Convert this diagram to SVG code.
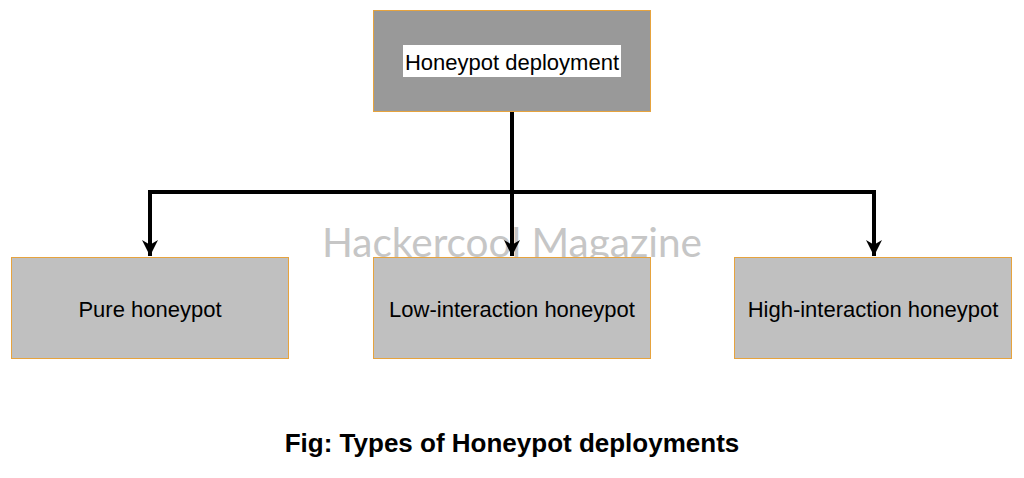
<svg xmlns="http://www.w3.org/2000/svg" width="1024" height="478" viewBox="0 0 1024 478">
<style>
.box{stroke:#e6a33e;stroke-width:1}
.top{fill:#999999}
.leaf{fill:#c0c0c0}
.lbl{font-family:"Liberation Sans",Arial,sans-serif;font-size:22px;fill:#000;text-anchor:middle}
.edge{fill:none;stroke:#000;stroke-width:4}
</style>
<defs>
<marker id="arr" viewBox="0 0 10 10" refX="10" refY="5" markerUnits="userSpaceOnUse" markerWidth="16" markerHeight="19" orient="auto">
<path d="M0,0 L10,5 L0,10 L3,5 Z" fill="#000"/>
</marker>
</defs>
<rect width="1024" height="478" fill="#fff"/>
<text x="512" y="257" font-family="Lato,'DejaVu Sans',sans-serif" font-size="40" fill="#c6c6c6" text-anchor="middle" textLength="380" lengthAdjust="spacingAndGlyphs">Hackercool Magazine</text>
<g id="n0">
<rect class="box top" x="373.5" y="10.5" width="277" height="101"/>
<rect x="403" y="45" width="218" height="32" fill="#fff"/>
<text class="lbl" x="512" y="70">Honeypot deployment</text>
</g>
<g id="n1">
<rect class="box leaf" x="11.5" y="257.5" width="277" height="101"/>
<text class="lbl" x="150" y="317">Pure honeypot</text>
</g>
<g id="n2">
<rect class="box leaf" x="373.5" y="257.5" width="277" height="101"/>
<text class="lbl" x="512" y="317">Low-interaction honeypot</text>
</g>
<g id="n3">
<rect class="box leaf" x="734.5" y="257.5" width="277" height="101"/>
<text class="lbl" x="873" y="317">High-interaction honeypot</text>
</g>
<g id="edges">
<path class="edge" d="M512,112 V192 H150 V256" marker-end="url(#arr)"/>
<path class="edge" d="M512,112 V256" marker-end="url(#arr)"/>
<path class="edge" d="M512,192 H874 V256" marker-end="url(#arr)"/>
</g>
<text x="512" y="452" font-family="'Liberation Sans',Arial,sans-serif" font-size="26" font-weight="bold" text-anchor="middle" fill="#000">Fig: Types of Honeypot deployments</text>
</svg>
